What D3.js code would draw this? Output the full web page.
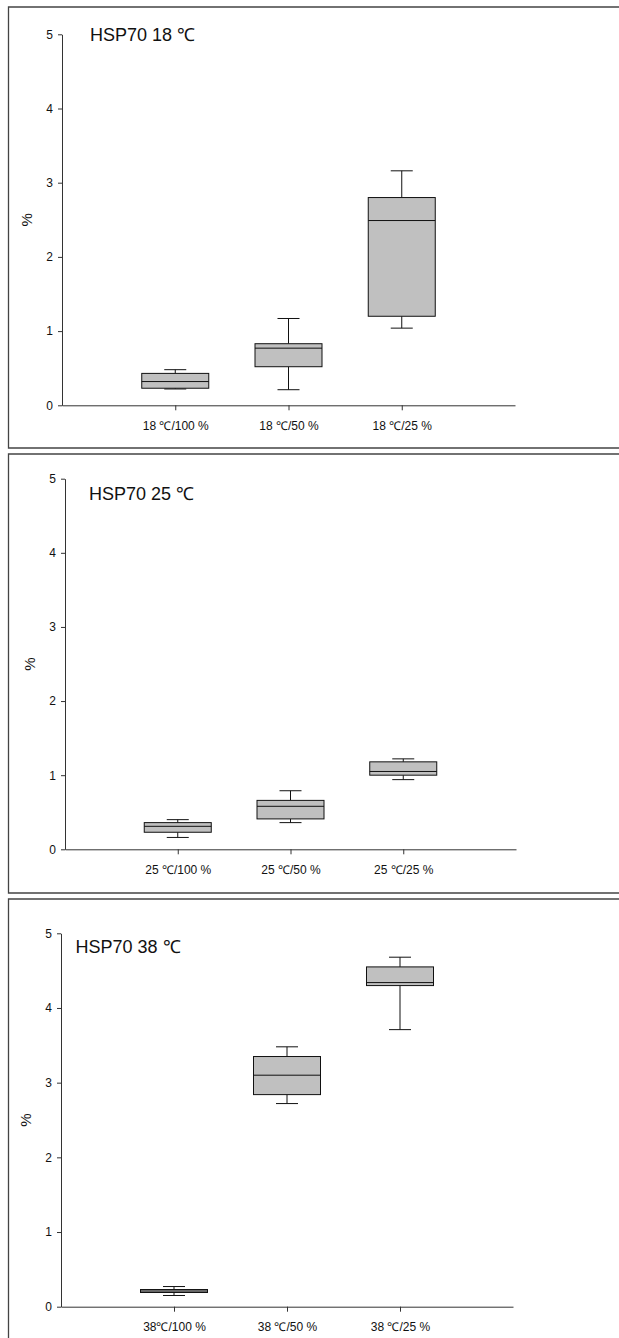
<!DOCTYPE html>
<html>
<head>
<meta charset="utf-8">
<script src="https://cdn.jsdelivr.net/npm/d3@7"></script>
<style>
  body { margin: 0; background: #fff; }
  text { font-family: Arial, "Liberation Sans", sans-serif; fill: #111; }
</style>
</head>
<body>
<div id="chart"></div>
<script>
// box stats per category: [whisker low, q1, median, q3, whisker high]
const titles = ["HSP70 18 ℃", "HSP70 25 ℃", "HSP70 38 ℃"];
const labels18 = ["18 ℃/100 %", "18 ℃/50 %", "18 ℃/25 %"];
const labels25 = ["25 ℃/100 %", "25 ℃/50 %", "25 ℃/25 %"];
const labels38 = ["38℃/100 %", "38 ℃/50 %", "38 ℃/25 %"];
const boxes18 = [
    [0.22, 0.23, 0.32, 0.43, 0.48],
    [0.21, 0.52, 0.77, 0.83, 1.17],
    [1.04, 1.20, 2.49, 2.80, 3.16]
];
const boxes25 = [
    [0.16, 0.23, 0.31, 0.36, 0.40],
    [0.36, 0.41, 0.58, 0.66, 0.79],
    [0.94, 1.00, 1.05, 1.18, 1.22]
];
const boxes38 = [
    [0.15, 0.19, 0.21, 0.23, 0.27],
    [2.72, 2.84, 3.10, 3.35, 3.48],
    [3.71, 4.30, 4.34, 4.55, 4.68]
];
const yTicks = [0, 1, 2, 3, 4, 5];

const width = 619, height = 1338;

// frame top/bottom, axis left/right, value 5 and value 0 pixel rows
const panels = [
    {title: titles[0], labels: labels18, boxes: boxes18, top: 7, bottom: 448, ax: 62, axR: 515, yTop: 34.3, yBot: 405.3, tx: 90, ty: 41},
    {title: titles[1], labels: labels25, boxes: boxes25, top: 454, bottom: 893, ax: 65, axR: 516, yTop: 478.7, yBot: 849.3, tx: 89, ty: 500},
    {title: titles[2], labels: labels38, boxes: boxes38, top: 899, bottom: null, ax: 61, axR: 513, yTop: 933.3, yBot: 1306.7, tx: 75.5, ty: 953}
];

const svg = d3.select("#chart")
    .append("svg")
    .attr("width", width)
    .attr("height", height);

for (const p of panels) {
    const g = svg.append("g");

    // panel frame (open on the right, and at the bottom of the last panel)
    const frame = d3.path();
    frame.moveTo(width + 5, p.top);
    frame.lineTo(8.5, p.top);
    frame.lineTo(8.5, p.bottom === null ? height + 5 : p.bottom);
    if (p.bottom !== null) frame.lineTo(width + 5, p.bottom);
    g.append("path")
        .attr("d", frame.toString())
        .attr("fill", "none")
        .attr("stroke", "#444")
        .attr("stroke-width", 1.3);

    const x = d3.scaleLinear().domain([0, 4]).range([p.ax, p.axR]);
    const y = d3.scaleLinear().domain([0, 5]).range([p.yBot, p.yTop]);

    const yAxis = g.append("g")
        .attr("transform", `translate(${p.ax},0)`)
        .call(d3.axisLeft(y).tickValues(yTicks).tickSize(4).tickSizeOuter(0).tickPadding(5).tickFormat(d3.format("d")));

    const xAxis = g.append("g")
        .attr("transform", `translate(0,${p.yBot})`)
        .call(d3.axisBottom(x).tickValues([1, 2, 3]).tickSize(5).tickSizeOuter(0).tickPadding(11)
            .tickFormat((d) => p.labels[d - 1]));

    for (const a of [yAxis, xAxis]) {
        a.selectAll("path, line").attr("stroke", "#333").attr("stroke-width", 1);
        a.selectAll("text").attr("font-size", 12).attr("fill", "#111")
            .style("font-family", "Arial, 'Liberation Sans', sans-serif");
    }

    g.append("text")
        .attr("x", p.tx)
        .attr("y", p.ty)
        .attr("font-size", 18)
        .text(p.title);

    g.append("text")
        .attr("transform", `translate(${p.ax - 30},${(p.yTop + p.yBot) / 2}) rotate(-90)`)
        .attr("text-anchor", "middle")
        .attr("font-size", 15)
        .text("%");

    const boxW = 67, capW = 22;
    const box = g.selectAll("g.box")
        .data(p.boxes)
        .join("g")
        .classed("box", true)
        .attr("transform", (d, i) => `translate(${x(i + 1)},0)`);

    // whiskers
    box.append("line")
        .attr("x1", 0).attr("x2", 0)
        .attr("y1", (d) => y(d[0])).attr("y2", (d) => y(d[1]))
        .attr("stroke", "#111");
    box.append("line")
        .attr("x1", 0).attr("x2", 0)
        .attr("y1", (d) => y(d[3])).attr("y2", (d) => y(d[4]))
        .attr("stroke", "#111");
    box.append("line")
        .attr("x1", -capW / 2).attr("x2", capW / 2)
        .attr("y1", (d) => y(d[0])).attr("y2", (d) => y(d[0]))
        .attr("stroke", "#111");
    box.append("line")
        .attr("x1", -capW / 2).attr("x2", capW / 2)
        .attr("y1", (d) => y(d[4])).attr("y2", (d) => y(d[4]))
        .attr("stroke", "#111");

    box.append("rect")
        .attr("x", -boxW / 2)
        .attr("width", boxW)
        .attr("y", (d) => y(d[3]))
        .attr("height", (d) => y(d[1]) - y(d[3]))
        .attr("fill", "#c0c0c0")
        .attr("stroke", "#111")
        .attr("stroke-width", 1);

    box.append("line")
        .attr("x1", -boxW / 2).attr("x2", boxW / 2)
        .attr("y1", (d) => y(d[2])).attr("y2", (d) => y(d[2]))
        .attr("stroke", "#111");
}
</script>
</body>
</html>
